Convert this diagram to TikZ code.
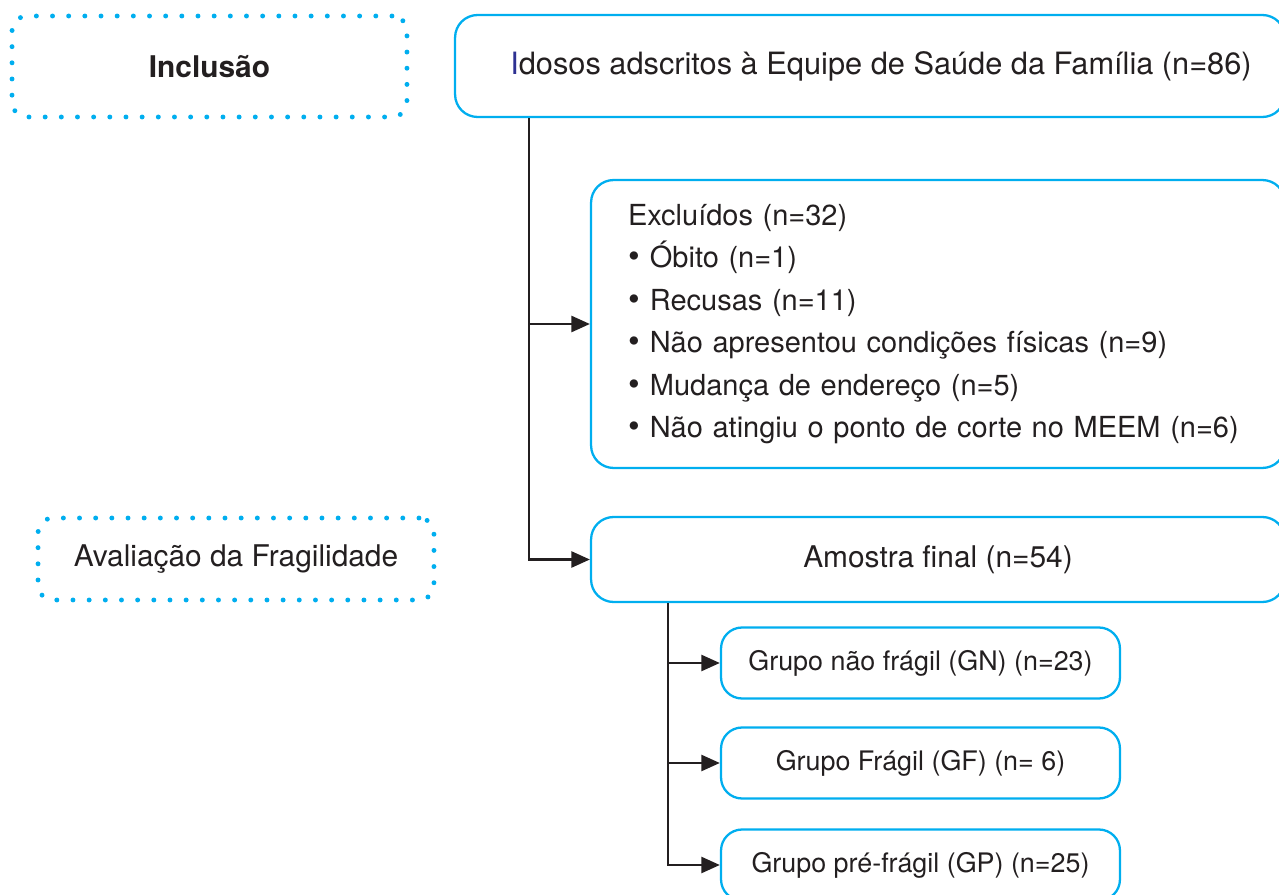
\documentclass[tikz,border=0pt]{standalone}
\usepackage{fontspec}
\setmainfont{TeX Gyre Heros}
\usetikzlibrary{arrows.meta}
\definecolor{boxblue}{HTML}{00AEEF}
\definecolor{inkgray}{HTML}{231F20}
\definecolor{iblue}{HTML}{2E3192}
\newcommand\bulletitem{{\fontsize{19}{20}\selectfont\textbullet}\hspace{.35em}}
\tikzset{
  stage/.style={draw=boxblue, line width=2.8pt, dash pattern=on 0pt off 9.2pt,
    line cap=round, rounded corners=0.3cm, text=inkgray, inner sep=0pt,
    font=\fontsize{17}{20}\selectfont},
  flowbox/.style={draw=boxblue, line width=1.3pt, rounded corners=0.45cm,
    text=inkgray, inner sep=0pt, font=\fontsize{17.5}{20}\selectfont},
  groupbox/.style={flowbox, rounded corners=0.42cm, font=\fontsize{15.3}{18}\selectfont},
  link/.style={line width=1.6pt, draw=inkgray, -{Triangle[length=10.5pt,width=9pt]}},
}
\begin{document}
\begin{tikzpicture}[x=0.02cm, y=-0.02cm]
\useasboundingbox (0,0) rectangle (1279,895);

%%%%%% Stages %%%%%%%

\node (inclusao) at (209.5,66.5) [stage, minimum width=7.9cm, minimum height=2.02cm] {\bfseries Inclusão};
\node (avaliacao) at (236,559) [stage, minimum width=7.92cm, minimum height=1.64cm] {Avaliação da Fragilidade};

%%%%%% Flow %%%%%%%

\node (idosos) at (870,66) [flowbox, minimum width=16.6cm, minimum height=2.04cm] {\hspace{0.44cm}{\color{iblue}I}dosos adscritos à Equipe de Saúde da Família (n=86)};
\node (excluidos) at (938,324) [flowbox, inner xsep=0.74cm, text width=12.4cm, align=left,
  minimum height=5.76cm, font=\fontsize{16.5}{24.2}\selectfont] {Excluídos (n=32)\\
  \bulletitem Óbito (n=1)\\
  \bulletitem Recusas (n=11)\\
  \bulletitem Não apresentou condições físicas (n=9)\\
  \bulletitem Mudança de endereço (n=5)\\
  \bulletitem Não atingiu o ponto de corte no MEEM (n=6)};
\node (amostra) at (938,559.5) [flowbox, minimum width=13.88cm, minimum height=1.7cm, font=\fontsize{17}{20}\selectfont] {Amostra final (n=54)};

\coordinate (trunk) at (529,0);
\draw[link] (idosos.south -| trunk) |- (amostra.west);
\draw[link] (excluidos.west -| trunk) -- (excluidos.west);

%%%%%% Groups %%%%%%%

\node (gn) at (920.5,663) [groupbox, minimum width=7.98cm, minimum height=1.42cm] {Grupo não frágil (GN) (n=23)};
\node (gf) at (920.5,763) [groupbox, minimum width=7.98cm, minimum height=1.42cm] {Grupo Frágil (GF) (n= 6)};
\node (gp) at (920.5,865) [groupbox, minimum width=7.98cm, minimum height=1.42cm] {Grupo pré-frágil (GP) (n=25)};

\coordinate (branch) at (668,0);
\draw[link] (amostra.south -| branch) |- (gp.west);
\draw[link] (gn.west -| branch) -- (gn.west);
\draw[link] (gf.west -| branch) -- (gf.west);

\end{tikzpicture}
\end{document}
